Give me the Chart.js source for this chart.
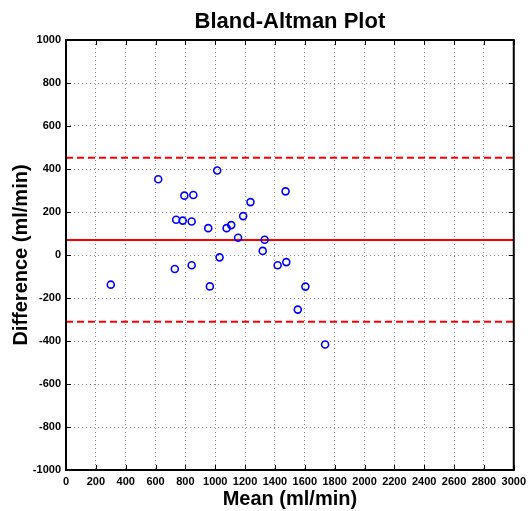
<!DOCTYPE html>
<html>
<head>
<meta charset="utf-8">
<script src="https://cdn.jsdelivr.net/npm/chart.js@4/dist/chart.umd.min.js"></script>
<style>
  html, body { margin: 0; padding: 0; background: #fff; }
  #wrap { width: 531px; height: 511px; }
</style>
</head>
<body>
<div id="wrap"><canvas id="baChart" width="531" height="511"></canvas></div>
<script>
// Mean of the two methods (ml/min)
const meanValues = [300, 618, 793, 853, 738, 782, 842, 953, 1013, 1076, 1107, 1153, 1187,
    1236, 1331, 1318, 729, 842, 1029, 964, 1418, 1476, 1471, 1553, 1604, 1736];
// Difference between the two methods (ml/min)
const diffValues = [-138, 352, 276, 279, 164, 160, 156, 125, 393, 125, 139, 80, 181,
    246, 71, 19, -65, -48, -11, -146, -48, -33, 296, -254, -147, -416];

const meanDiff = 70;
const upperLimit = 452;
const lowerLimit = -311;

const xRange = [0, 3000];
const yRange = [-1000, 1000];
const tickStep = 200;

const points = meanValues.map((m, i) => ({ x: m, y: diffValues[i] }));
const hLine = v => xRange.map(x => ({ x: x, y: v }));

const tickFont = { family: '"Liberation Sans Narrow", "Liberation Sans", Arial', size: 11, weight: 'bold' };
const titleFont = { family: '"Liberation Sans", Arial', size: 20, weight: 'bold' };

// frame, inward ticks and plot title (matlab look)
const matlabFrame = {
    id: 'matlabFrame',
    afterDraw(chart) {
        const ctx = chart.ctx;
        const area = chart.chartArea;
        const xs = chart.scales.x;
        const ys = chart.scales.y;
        const len = 5;
        ctx.save();
        ctx.strokeStyle = '#000';
        ctx.lineWidth = 1;
        ctx.beginPath();
        xs.ticks.forEach(t => {
            const px = Math.round(xs.getPixelForValue(t.value)) + 0.5;
            ctx.moveTo(px, area.bottom); ctx.lineTo(px, area.bottom - len);
            ctx.moveTo(px, area.top); ctx.lineTo(px, area.top + len);
        });
        ys.ticks.forEach(t => {
            const py = Math.round(ys.getPixelForValue(t.value)) + 0.5;
            ctx.moveTo(area.left, py); ctx.lineTo(area.left + len, py);
            ctx.moveTo(area.right, py); ctx.lineTo(area.right - len, py);
        });
        ctx.stroke();
        ctx.lineWidth = 2;
        ctx.strokeRect(area.left, area.top, area.right - area.left, area.bottom - area.top);

        ctx.fillStyle = '#000';
        ctx.font = 'bold 22px "Liberation Sans", Arial';
        ctx.textAlign = 'center';
        ctx.textBaseline = 'alphabetic';
        ctx.fillText('Bland-Altman Plot', (area.left + area.right) / 2, 28);
        ctx.restore();
    }
};

const ctx = document.getElementById('baChart').getContext('2d');
new Chart(ctx, {
    type: 'scatter',
    data: {
        datasets: [{
            label: 'Differences',
            data: points,
            pointStyle: 'circle',
            pointRadius: 3.5,
            pointBorderWidth: 1.6,
            pointBorderColor: '#0000ff',
            pointBackgroundColor: 'rgba(0,0,0,0)',
            order: 0
        }, {
            label: 'Mean difference',
            data: hLine(meanDiff),
            showLine: true,
            borderColor: '#ff0000',
            borderWidth: 2,
            pointRadius: 0,
            order: 1
        }, {
            label: 'Upper limit',
            data: hLine(upperLimit),
            showLine: true,
            borderColor: '#ff0000',
            borderWidth: 2,
            borderDash: [7, 4],
            pointRadius: 0,
            order: 1
        }, {
            label: 'Lower limit',
            data: hLine(lowerLimit),
            showLine: true,
            borderColor: '#ff0000',
            borderWidth: 2,
            borderDash: [7, 4],
            pointRadius: 0,
            order: 1
        }]
    },
    options: {
        responsive: false,
        animation: false,
        layout: { padding: { top: 40, right: 15, left: 0, bottom: 0 } },
        plugins: {
            legend: { display: false },
            tooltip: { enabled: false },
            title: { display: false }
        },
        scales: {
            x: {
                type: 'linear',
                min: xRange[0],
                max: xRange[1],
                afterFit: s => { s.height = 41; },
                grid: { color: '#888', lineWidth: 1, drawTicks: false },
                border: { display: false, dash: [1, 3] },
                ticks: { stepSize: tickStep, color: '#000', font: tickFont, padding: 5, maxRotation: 0, autoSkip: false,
                    callback: v => String(v) },
                title: { display: true, text: 'Mean (ml/min)', color: '#000', font: titleFont, padding: { top: 0, bottom: 0 } }
            },
            y: {
                type: 'linear',
                min: yRange[0],
                max: yRange[1],
                afterFit: s => { s.width = 66; },
                grid: { color: '#888', lineWidth: 1, drawTicks: false },
                border: { display: false, dash: [1, 3] },
                ticks: { stepSize: tickStep, color: '#000', font: tickFont, padding: 5, autoSkip: false,
                    callback: v => String(v) },
                title: { display: true, text: 'Difference (ml/min)', color: '#000', font: titleFont, padding: { top: 9, bottom: 0 } }
            }
        }
    },
    plugins: [matlabFrame]
});
</script>
</body>
</html>
